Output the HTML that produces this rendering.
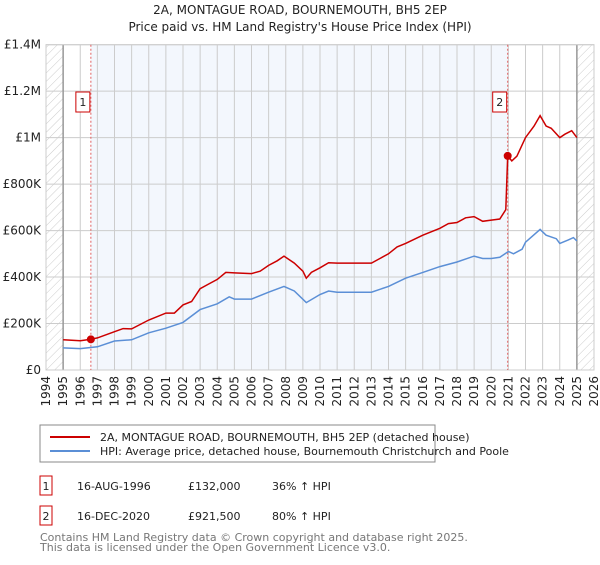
<!DOCTYPE html>
<html><head><meta charset="utf-8"><style>
body{margin:0;background:#fff;font-family:"Liberation Sans","DejaVu Sans",sans-serif;}
svg text{font-family:"DejaVu Sans","Liberation Sans",sans-serif;}
</style></head><body>
<svg id="c" width="600" height="560" xmlns="http://www.w3.org/2000/svg">
<defs><pattern id="h" width="6" height="6" patternUnits="userSpaceOnUse" patternTransform="rotate(45)"><line x1="0" y1="0" x2="0" y2="6" stroke="#ccc" stroke-width="1"/></pattern></defs>
<text x="300" y="14" text-anchor="middle" font-size="12" fill="#222">2A, MONTAGUE ROAD, BOURNEMOUTH, BH5 2EP</text>
<text x="300" y="31" text-anchor="middle" font-size="12" fill="#222">Price paid vs. HM Land Registry's House Price Index (HPI)</text>
<g id="plot"></g>
<rect x="40" y="425" width="395" height="37" fill="#fff" stroke="#888"/>
<line x1="50" y1="437" x2="90" y2="437" stroke="#cc0000" stroke-width="2"/>
<text x="100" y="441" font-size="11" fill="#222">2A, MONTAGUE ROAD, BOURNEMOUTH, BH5 2EP (detached house)</text>
<line x1="50" y1="451" x2="90" y2="451" stroke="#5b8fd6" stroke-width="2"/>
<text x="100" y="455" font-size="11" fill="#222">HPI: Average price, detached house, Bournemouth Christchurch and Poole</text>
<g font-size="11" fill="#222">
<rect x="40" y="476" width="12" height="19" fill="#fff" stroke="#cc0000"/>
<text x="46" y="490" text-anchor="middle">1</text>
<text x="77" y="490">16-AUG-1996</text>
<text x="188" y="490">£132,000</text>
<text x="272" y="490">36% ↑ HPI</text>
<rect x="40" y="506" width="12" height="19" fill="#fff" stroke="#cc0000"/>
<text x="46" y="520" text-anchor="middle">2</text>
<text x="77" y="520">16-DEC-2020</text>
<text x="188" y="520">£921,500</text>
<text x="272" y="520">80% ↑ HPI</text>
</g>
<text x="40" y="541" font-size="11" fill="#777">Contains HM Land Registry data © Crown copyright and database right 2025.</text>
<text x="40" y="551" font-size="11" fill="#777">This data is licensed under the Open Government Licence v3.0.</text>
</svg>
<script>
const yTicks=[0,200000,400000,600000,800000,1000000,1200000,1400000];
const yTickLabels=["£0","£200K","£400K","£600K","£800K","£1M","£1.2M","£1.4M"];
const xYears=[1994,1995,1996,1997,1998,1999,2000,2001,2002,2003,2004,2005,2006,2007,2008,2009,2010,2011,2012,2013,2014,2015,2016,2017,2018,2019,2020,2021,2022,2023,2024,2025,2026];
const saleDates=[1996.62,2020.96];
const salePrices=[132000,921500];
const propT=[1995,1996,1996.62,1997,1998,1998.5,1999,2000,2001,2001.5,2002,2002.5,2003,2003.5,2004,2004.5,2005,2006,2006.5,2007,2007.5,2007.9,2008.5,2009,2009.2,2009.5,2010,2010.5,2011,2012,2013,2013.5,2014,2014.5,2015,2016,2017,2017.5,2018,2018.5,2019,2019.5,2020,2020.5,2020.85,2020.96,2021.2,2021.5,2022,2022.5,2022.85,2023.2,2023.5,2024,2024.3,2024.7,2025];
const propV=[130000,126000,132000,138000,165000,178000,177000,215000,245000,245000,280000,295000,350000,370000,390000,420000,418000,415000,425000,450000,470000,490000,460000,425000,395000,420000,440000,462000,460000,460000,460000,480000,500000,530000,545000,580000,610000,630000,635000,655000,660000,640000,645000,650000,690000,921500,900000,920000,1000000,1050000,1095000,1050000,1040000,1000000,1015000,1030000,1000000];
const hpiT=[1995,1996,1997,1998,1999,2000,2001,2002,2003,2004,2004.7,2005,2006,2007,2007.9,2008.5,2009.2,2010,2010.5,2011,2012,2013,2014,2015,2016,2017,2018,2019,2019.5,2020,2020.5,2021,2021.3,2021.8,2022,2022.85,2023.2,2023.8,2024,2024.5,2024.8,2025];
const hpiV=[95000,92000,100000,125000,130000,160000,180000,205000,260000,285000,315000,305000,305000,335000,360000,340000,290000,325000,340000,335000,335000,335000,360000,395000,420000,445000,465000,490000,480000,480000,485000,510000,500000,520000,550000,605000,580000,565000,545000,560000,570000,555000];
const L=46,R=594,T=44.7,B=370;
const X=t=>L+(t-1994)/(2026-1994)*(R-L);
const Y=v=>B-v/1400000*(B-T);
const NS="http://www.w3.org/2000/svg";
const g=document.getElementById('plot');
function mk(tag,a){const e=document.createElementNS(NS,tag);for(const k in a)e.setAttribute(k,a[k]);g.appendChild(e);return e;}
let e;
e=mk('rect',{x:L,y:T,width:R-L,height:B-T,fill:'#fff'});


e=mk('rect',{x:X(saleDates[0]),y:T,width:X(saleDates[1])-X(saleDates[0]),height:B-T,fill:'#eef3fc',opacity:0.7});


e=mk('rect',{x:L,y:T,width:X(1995)-L,height:B-T,fill:'url(#h)'});


e=mk('rect',{x:X(2025),y:T,width:R-X(2025),height:B-T,fill:'url(#h)'});


yTicks.forEach((v,i)=>{
 e=mk('line',{x1:L,x2:R,y1:Y(v),y2:Y(v),stroke:'#ccc'});
 
 
 e=mk('text',{x:L-5,y:Y(v)+4,'text-anchor':'end','font-size':12,fill:'#222'});e.textContent=yTickLabels[i];
 
 
});
xYears.forEach(y=>{
 e=mk('line',{x1:X(y),x2:X(y),y1:T,y2:B,stroke:'#ccc'});
 
 
 e=mk('text',{x:0,y:0,'text-anchor':'end','font-size':12,fill:'#222',transform:`translate(${X(y)+4},${B+6}) rotate(-90)`});e.textContent=y;
 
 
});
[1995,2025].forEach(y=>{e=mk('line',{x1:X(y),x2:X(y),y1:T,y2:B,stroke:'#999','stroke-width':1.5});
 
 });
e=mk('rect',{x:L,y:T,width:R-L,height:B-T,fill:'none',stroke:'#ccc'});


saleDates.forEach((d,i)=>{
 e=mk('line',{x1:X(d),x2:X(d),y1:T,y2:B,stroke:'#e06060','stroke-dasharray':'2,2'});
 
 
 e=mk('rect',{x:X(d)-15,y:92,width:14,height:20,fill:'#fff',stroke:'#cc0000'});
 
 
 e=mk('text',{x:X(d)-8,y:106,'text-anchor':'middle','font-size':11,fill:'#222'});e.textContent=String(i+1);
 
 
});
e=mk('path',{d:hpiT.map((t,i)=>(i?'L':'M')+X(t).toFixed(1)+','+Y(hpiV[i]).toFixed(1)).join(''),fill:'none',stroke:'#5b8fd6','stroke-width':1.5});


e=mk('path',{d:propT.map((t,i)=>(i?'L':'M')+X(t).toFixed(1)+','+Y(propV[i]).toFixed(1)).join(''),fill:'none',stroke:'#cc0000','stroke-width':1.5});


saleDates.forEach((d,i)=>{
 e=mk('circle',{cx:X(d),cy:Y(salePrices[i]),r:4,fill:'#cc0000'});
 
 
});
</script>
</body></html>
